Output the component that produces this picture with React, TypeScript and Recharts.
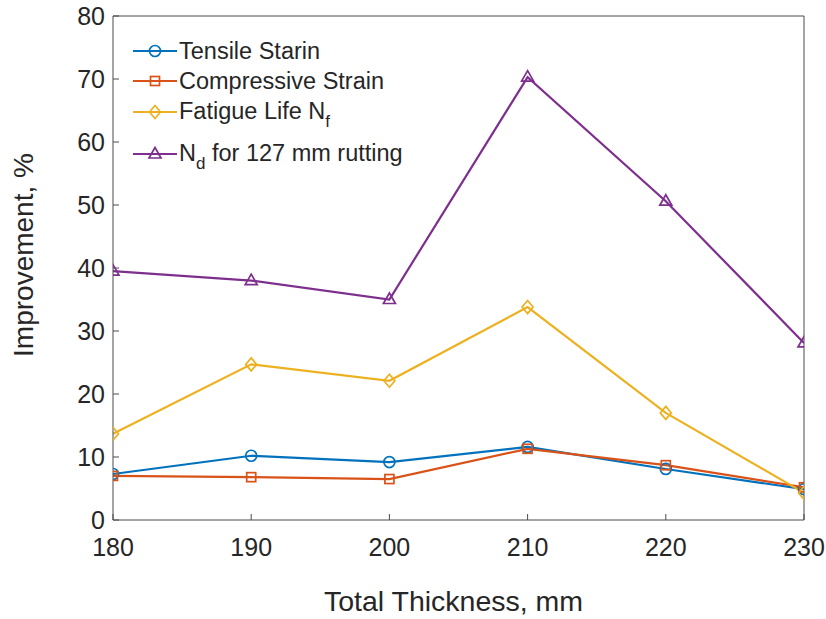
import React from "react"
import {
  LineChart,
  Line,
  XAxis,
  YAxis,
  Label
} from "recharts"

const thickness = [180, 190, 200, 210, 220, 230]
const tensileStrain = [7.3, 10.2, 9.2, 11.6, 8.1, 4.9]
const compressiveStrain = [7.0, 6.8, 6.5, 11.3, 8.7, 5.2]
const fatigueLife = [13.7, 24.7, 22.1, 33.8, 17.0, 4.3]
const ruttingNd = [39.5, 38.0, 35.0, 70.3, 50.6, 28.1]

const xTicks = [180, 190, 200, 210, 220, 230]
const yTicks = [0, 10, 20, 30, 40, 50, 60, 70, 80]

const FONT = "'Liberation Sans', Arial, Helvetica, sans-serif"
const TEXT = "#262626"
const AXIS = "#4a4a4a"

const BLUE = "#0072BD"
const ORANGE = "#D95319"
const YELLOW = "#EDB120"
const PURPLE = "#7E2F8E"

type MarkerKind = "circle" | "square" | "diamond" | "triangle"

function markerShape(kind: MarkerKind, cx: number, cy: number, color: string, key?: string | number) {
  const sw = 1.7
  if (kind === "circle") {
    return <circle key={key} cx={cx} cy={cy} r={5.5} fill="none" stroke={color} strokeWidth={sw} />
  }
  if (kind === "square") {
    return <rect key={key} x={cx - 4.5} y={cy - 4.5} width={9} height={9} fill="none" stroke={color} strokeWidth={sw} />
  }
  if (kind === "diamond") {
    const d = `M${cx},${cy - 6.5} L${cx + 5.5},${cy} L${cx},${cy + 6.5} L${cx - 5.5},${cy} Z`
    return <path key={key} d={d} fill="none" stroke={color} strokeWidth={sw} />
  }
  const t = `M${cx},${cy - 6.5} L${cx + 6},${cy + 4} L${cx - 6},${cy + 4} Z`
  return <path key={key} d={t} fill="none" stroke={color} strokeWidth={sw} />
}

const makeDot = (kind: MarkerKind, color: string) => (props: any) => {
  const { cx, cy, index } = props
  if (cx == null || cy == null) return <g key={`m-${kind}-${index}`} />
  return markerShape(kind, cx, cy, color, `m-${kind}-${index}`)
}

const subStyle: React.CSSProperties = { fontSize: 17, position: "relative", top: 8 }

const legendRows = [
  { kind: "circle" as MarkerKind, color: BLUE, top: 36, label: <>Tensile Starin</> },
  { kind: "square" as MarkerKind, color: ORANGE, top: 66, label: <>Compressive Strain</> },
  {
    kind: "diamond" as MarkerKind,
    color: YELLOW,
    top: 97,
    label: (
      <>
        Fatigue Life N<span style={subStyle}>f</span>
      </>
    )
  },
  {
    kind: "triangle" as MarkerKind,
    color: PURPLE,
    top: 139,
    label: (
      <>
        N<span style={subStyle}>d</span> for 127 mm rutting
      </>
    )
  }
]

function LegendBox() {
  return (
    <div style={{ position: "absolute", left: 132, top: 0, width: 300, height: 170, fontFamily: FONT, color: TEXT }}>
      {legendRows.map((r, i) => (
        <div key={i} style={{ position: "absolute", left: 0, top: r.top, height: 30, display: "flex", alignItems: "center", whiteSpace: "nowrap" }}>
          <svg width={47} height={30} style={{ display: "block" }}>
            <line x1={1} y1={15} x2={45} y2={15} stroke={r.color} strokeWidth={2.2} />
            {markerShape(r.kind, 23, 15, r.color)}
          </svg>
          <span style={{ fontSize: 23.5, lineHeight: "30px" }}>{r.label}</span>
        </div>
      ))}
    </div>
  )
}

export default function App() {
  const data = thickness.map((t, i) => ({
    thickness: t,
    tensile: tensileStrain[i],
    compressive: compressiveStrain[i],
    fatigue: fatigueLife[i],
    rutting: ruttingNd[i]
  }))

  return (
    <div style={{ position: "absolute", left: 0, top: 0, width: 826, height: 619, background: "#fff" }}>
      <LineChart
        width={826}
        height={619}
        data={data}
        margin={{ top: 15, right: 21, bottom: 49, left: 53 }}
      >
        <XAxis
          dataKey="thickness"
          type="number"
          domain={[180, 230]}
          ticks={xTicks}
          allowDataOverflow
          height={50}
          tickSize={-6}
          tickMargin={24}
          axisLine={{ stroke: AXIS, strokeWidth: 1 }}
          tickLine={{ stroke: AXIS, strokeWidth: 1 }}
          tick={{ fill: TEXT, fontSize: 25, fontFamily: FONT }}
        >
          <Label
            value="Total Thickness, mm"
            position="bottom"
            offset={21}
            dx={-5}
            style={{ fill: TEXT, fontSize: 28.5, fontFamily: FONT }}
          />
        </XAxis>
        <XAxis
          xAxisId="top"
          orientation="top"
          dataKey="thickness"
          type="number"
          domain={[180, 230]}
          ticks={xTicks}
          height={1}
          tickSize={-6}
          tick={false}
          axisLine={{ stroke: AXIS, strokeWidth: 1 }}
          tickLine={{ stroke: AXIS, strokeWidth: 1 }}
        />
        <YAxis
          type="number"
          domain={[0, 80]}
          ticks={yTicks}
          allowDataOverflow
          width={60}
          tickSize={-6}
          tickMargin={14}
          axisLine={{ stroke: AXIS, strokeWidth: 1 }}
          tickLine={{ stroke: AXIS, strokeWidth: 1 }}
          tick={{ fill: TEXT, fontSize: 25, fontFamily: FONT }}
        >
          <Label
            content={() => (
              <text
                x={33}
                y={255}
                transform="rotate(-90, 33, 255)"
                textAnchor="middle"
                fill={TEXT}
                fontSize={28}
                fontFamily={FONT}
              >
                Improvement, %
              </text>
            )}
          />
        </YAxis>
        <YAxis
          yAxisId="right"
          orientation="right"
          type="number"
          domain={[0, 80]}
          ticks={yTicks}
          width={1}
          tickSize={-6}
          tick={false}
          axisLine={{ stroke: AXIS, strokeWidth: 1 }}
          tickLine={{ stroke: AXIS, strokeWidth: 1 }}
        />
        <Line
          dataKey="tensile"
          stroke={BLUE}
          strokeWidth={2.2}
          dot={makeDot("circle", BLUE)}
          activeDot={false}
          isAnimationActive={false}
        />
        <Line
          dataKey="compressive"
          stroke={ORANGE}
          strokeWidth={2.2}
          dot={makeDot("square", ORANGE)}
          activeDot={false}
          isAnimationActive={false}
        />
        <Line
          dataKey="fatigue"
          stroke={YELLOW}
          strokeWidth={2.2}
          dot={makeDot("diamond", YELLOW)}
          activeDot={false}
          isAnimationActive={false}
        />
        <Line
          dataKey="rutting"
          stroke={PURPLE}
          strokeWidth={2.2}
          dot={makeDot("triangle", PURPLE)}
          activeDot={false}
          isAnimationActive={false}
        />
      </LineChart>
      <LegendBox />
    </div>
  )
}
